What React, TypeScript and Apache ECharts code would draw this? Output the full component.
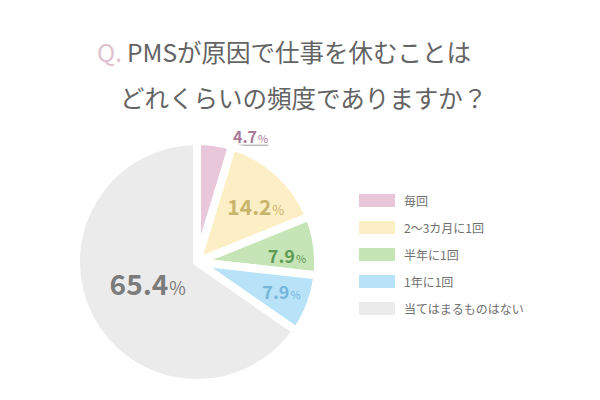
import * as echarts from 'echarts';
import React, { useEffect, useRef } from 'react';

// 데이터
const categories = ['毎回', '2〜3カ月に1回', '半年に1回', '1年に1回', '当てはまるものはない'];
const values = [4.7, 14.2, 7.9, 7.9, 65.4];
const titleLine1 = 'PMSが原因で仕事を休むことは';
const titleLine2 = 'どれくらいの頻度でありますか？';

// 스타일
const sliceColors = ['#e9c7db', '#fdefc5', '#c6e5b7', '#b7e2f8', '#ebebeb'];
const labelColors = ['#a97b98', '#c9b46c', '#5f9a55', '#74b6dc', '#7c7c7c'];
const labelSizes = [16, 21, 18, 18, 28];
const pctSizes = [11, 13, 11, 11, 18];
const labelOffsets = [[0, 0], [16, -9], [27, 2], [25, 7], [7, -8]];

const FONT = '"Noto Sans CJK JP", "Noto Sans", sans-serif';
const CX = 197;
const CY = 262;
const R = 121;

const App = () => {
  const chartRef = useRef<HTMLDivElement>(null);

  useEffect(() => {
    const chart = echarts.init(chartRef.current, null, { renderer: 'svg' });
    const total = values.reduce((a, b) => a + b, 0);

    const data = values.map((v, i) => ({
      name: categories[i],
      value: v,
      itemStyle: { color: sliceColors[i] },
      label: {
        position: i === 0 ? 'outside' : 'inside',
        offset: labelOffsets[i],
        formatter: '{v|{c}}{p|%}',
        rich: {
          v: {
            fontFamily: FONT,
            fontWeight: 'bold',
            fontSize: labelSizes[i],
            color: labelColors[i],
            verticalAlign: 'bottom',
            lineHeight: labelSizes[i],
          },
          p: {
            fontFamily: FONT,
            fontSize: pctSizes[i],
            color: labelColors[i],
            verticalAlign: 'bottom',
            lineHeight: pctSizes[i],
            padding: [0, 0, 1, 1],
          },
        },
      },
      labelLine: { show: i === 0, lineStyle: { color: '#9a9a9a', width: 1 } },
    }));

    const option = {
      animation: false,
      backgroundColor: '#ffffff',
      title: [
        {
          left: 97,
          top: 37,
          padding: 0,
          text: '{q|Q.} {t|' + titleLine1 + '}',
          textStyle: {
            rich: {
              q: { fontFamily: FONT, fontSize: 24.5, color: '#dfc1cf', fontWeight: 'normal', lineHeight: 28 },
              t: { fontFamily: FONT, fontSize: 24.5, color: '#646464', fontWeight: 'normal', lineHeight: 28 },
            },
          },
        },
        {
          left: 120,
          top: 83,
          padding: 0,
          text: titleLine2,
          textStyle: { fontFamily: FONT, fontSize: 24.5, color: '#646464', fontWeight: 'normal', lineHeight: 28 },
        },
      ],
      legend: {
        orient: 'vertical',
        left: 357,
        top: 192,
        padding: 0,
        icon: 'rect',
        itemWidth: 38,
        itemHeight: 15,
        itemGap: 10,
        selectedMode: false,
        data: categories,
        textStyle: { fontFamily: FONT, fontSize: 12, color: '#707070', padding: [0, 0, 0, 3] },
      },
      series: [
        {
          type: 'pie',
          center: [CX, CY],
          radius: [0, R],
          startAngle: 90,
          clockwise: true,
          avoidLabelOverlap: false,
          itemStyle: { borderColor: '#ffffff', borderWidth: 8 },
          label: { show: true },
          labelLine: { show: false },
          emphasis: { disabled: true },
          labelLayout: (params: any) => {
            if (params.dataIndex !== 0) return {};
            // 첫 조각의 중앙 각도에서 선을 그린다
            const mid = (values[0] / 2 / total) * Math.PI * 2;
            const sx = CX + 110 * Math.sin(mid);
            const sy = CY - 110 * Math.cos(mid);
            const ex = sx + 5;
            const ey = sy - 8;
            const fx = ex + 50;
            return {
              x: fx,
              y: ey - 1,
              align: 'right',
              verticalAlign: 'bottom',
              labelLinePoints: [
                [sx, sy],
                [ex, ey],
                [fx, ey],
              ],
            };
          },
          data,
        },
      ],
    };

    chart.setOption(option);
    return () => {
      chart.dispose();
    };
  }, []);

  return (
    <div
      ref={chartRef}
      style={{ position: 'fixed', left: 0, top: 0, width: 600, height: 400 }}
    />
  );
};

export default App;
